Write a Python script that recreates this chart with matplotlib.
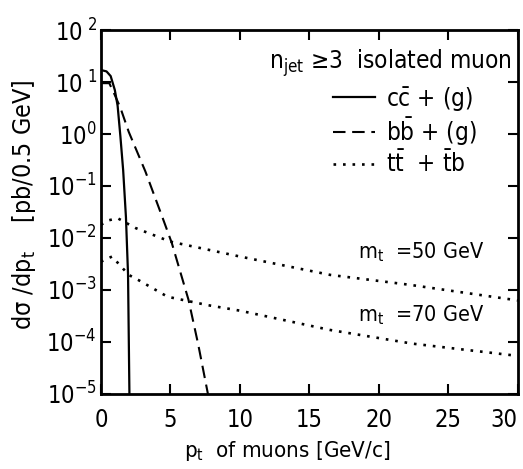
import matplotlib
matplotlib.use('Agg')
import matplotlib.pyplot as plt
import numpy as np

plt.rcParams['font.family'] = ['DejaVu Sans']
plt.rcParams['font.stretch'] = 'condensed'
plt.rcParams['mathtext.fontset'] = 'custom'
plt.rcParams['mathtext.rm'] = 'DejaVu Sans:stretch=condensed'
plt.rcParams['mathtext.it'] = 'DejaVu Sans:stretch=condensed'
plt.rcParams['mathtext.bf'] = 'DejaVu Sans:stretch=condensed'

# muon pt spectra, n_jet >= 3, isolated muon
pt_cc = [0.0, 0.4, 0.7, 1.0, 1.2, 1.4, 1.6, 1.8, 1.95, 2.05]
ds_cc = [17, 16, 13, 7, 3.5, 0.9, 0.2, 0.025, 0.002, 1e-5]

pt_bb = [0.0, 0.6, 1.0, 1.4, 2.0, 3.2, 4.5, 5.1, 6.3, 7.0, 7.7]
ds_bb = [9.5, 9.5, 5.6, 3.2, 1.1, 0.19, 0.022, 0.008, 6.5e-4, 9e-5, 1e-5]

pt_t50 = [0.0, 0.6, 1.2, 2.5, 5.0, 10.0, 16.5, 22.2, 30.0]
ds_t50 = [0.018, 0.022, 0.024, 0.0155, 0.0085, 0.0044, 0.00195, 0.00126, 0.00063]

pt_t70 = [0.0, 0.8, 2.0, 2.7, 4.8, 7.7, 10.0, 16.5, 22.4, 30.0]
ds_t70 = [0.0035, 0.0044, 0.00195, 0.00155, 0.00074, 0.00051, 0.0004, 0.00017, 9.3e-5, 5.4e-5]

xticks = [0, 5, 10, 15, 20, 25, 30]
yexp = [-5, -4, -3, -2, -1, 0, 1, 2]

fig = plt.figure(figsize=(5.23, 4.69), dpi=100)
ax = fig.add_axes([0.193, 0.160, 0.797, 0.776])

ax.plot(pt_cc, ds_cc, color='black', lw=1.6, ls='-',
        label=r'c$\bar{\mathrm{c}}$ + (g)')
ax.plot(pt_bb, ds_bb, color='black', lw=1.5, ls=(0, (6, 3.2)),
        label=r'b$\bar{\mathrm{b}}$ + (g)')
ax.plot(pt_t50, ds_t50, color='black', lw=1.9, ls=(0, (1, 2.6)),
        label=r't$\bar{\mathrm{t}}$  + $\bar{\mathrm{t}}$b')
ax.plot(pt_t70, ds_t70, color='black', lw=1.9, ls=(0, (1, 2.6)))

ax.set_yscale('log')
ax.set_xlim(0, 30)
ax.set_ylim(1e-5, 1e2)
ax.set_xticks(xticks)
xlabels = ax.set_xticklabels([str(v) for v in xticks])
xlabels[-1].set_horizontalalignment('right')
ax.set_yticks([10.0 ** e for e in yexp])
ax.set_yticklabels([r'$10^{\ %d}$' % e if e > 0 else r'$10^{%d}$' % e for e in yexp])
ax.yaxis.set_minor_locator(matplotlib.ticker.NullLocator())

ax.tick_params(which='major', direction='in', length=7, width=1.5,
               top=True, right=True, labelsize=17)
ax.tick_params(axis='x', pad=10)
ax.tick_params(axis='y', pad=3)
for sp in ax.spines.values():
    sp.set_linewidth(2)

ax.set_xlabel(r'p$_\mathrm{t}$  of muons [GeV/c]', fontsize=16, labelpad=12)
ax.xaxis.set_label_coords(0.446, -0.125)
ax.set_ylabel(r'd$\sigma$ /dp$_\mathrm{t}$    [pb/0.5 GeV]', fontsize=18, labelpad=0)
ax.yaxis.set_label_coords(-0.152, 0.52)

ax.text(0.986, 0.909, r'n$_\mathrm{jet}$ ≥3  isolated muon', transform=ax.transAxes,
        ha='right', va='center', fontsize=17.5)
ax.text(18.5, 10 ** -2.27, r'm$_\mathrm{t}$  =50 GeV', ha='left', va='center', fontsize=15.5)
ax.text(18.5, 10 ** -3.48, r'm$_\mathrm{t}$  =70 GeV', ha='left', va='center', fontsize=15.5)

ax.legend(loc='upper left', bbox_to_anchor=(0.556, 0.85), frameon=False,
          fontsize=17.5, borderpad=0, borderaxespad=0, handlelength=1.75,
          handletextpad=0.45, labelspacing=0.1)

fig.savefig('out.png', dpi=100)
